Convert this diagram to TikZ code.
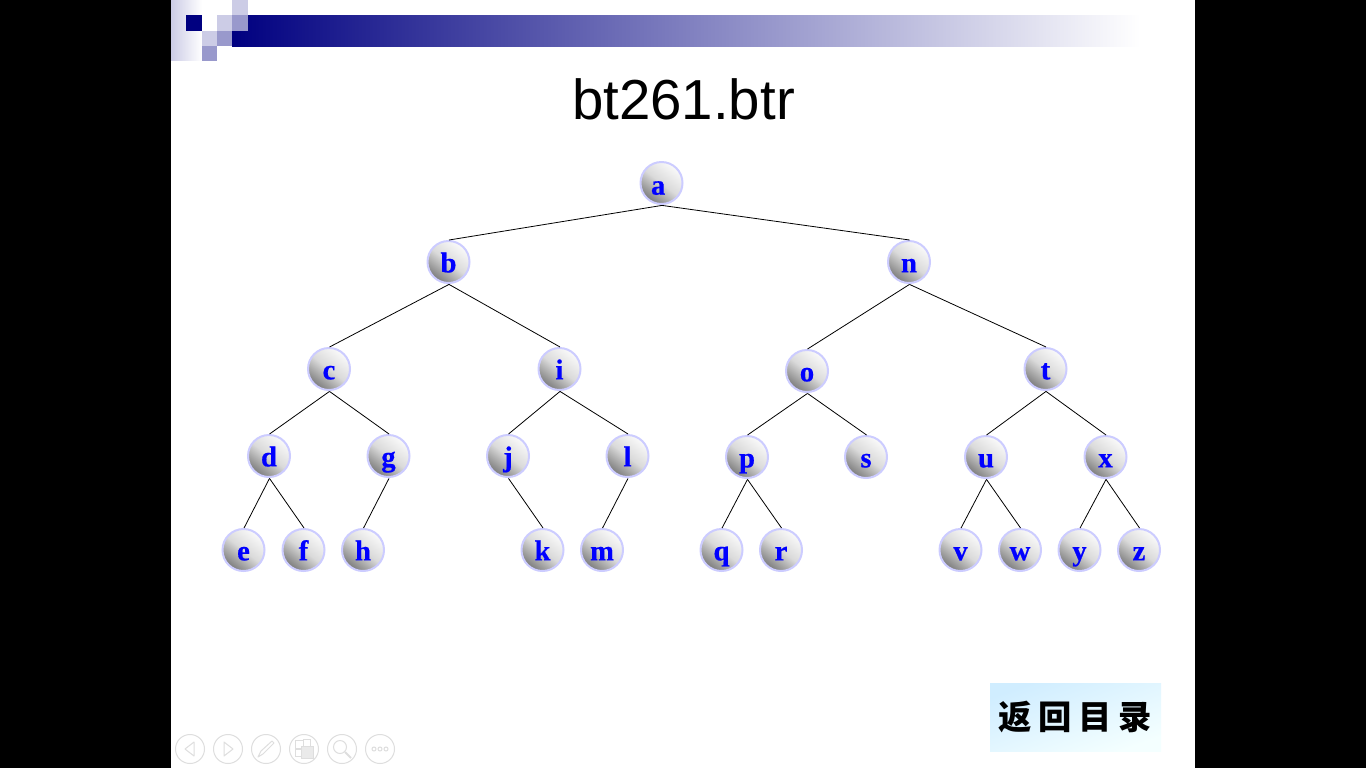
\documentclass[tikz,border=0pt]{standalone}
\usepackage{fontspec}
\setmainfont{Liberation Serif}
\newfontfamily\titlefont{Liberation Sans}
\newfontfamily\ballfont[FakeBold=0.6]{Liberation Serif Bold}
\newfontfamily\cjkfont{Noto Sans CJK SC}
\definecolor{navy}{HTML}{000080}
\definecolor{lightsq}{HTML}{CCCCE6}
\definecolor{midsq}{HTML}{9999CC}
\definecolor{ballrim}{HTML}{CCCCFF}
\definecolor{navline}{HTML}{DEDEDE}
\definecolor{navfill}{HTML}{EAEAEA}
\definecolor{balltop}{HTML}{FAFAFA}
\definecolor{ballmid}{HTML}{DADADA}
\definecolor{ballbot}{HTML}{7C7C7C}
\definecolor{btntop}{HTML}{D0EDFF}
\definecolor{btnbot}{HTML}{F4FFFF}
\tikzset{
  x=0.75pt,y=-0.75pt,
  ball/.style={circle,draw=ballrim,line width=1.5pt,minimum size=31.5pt,inner sep=0pt,
    top color=balltop,bottom color=ballbot,middle color=ballmid,shading angle=322,
    text=blue,font=\ballfont\fontsize{21.5}{21.5}\selectfont,text height=15.5pt,text depth=0pt},
  edge/.style={draw=black,line width=0.6pt},
  navring/.style={draw=navline,line width=0.75pt,fill=white},
  navmark/.style={draw=navline,line width=0.75pt},
}
\begin{document}
\begin{tikzpicture}
\useasboundingbox (0,0) rectangle (1366,768);
\fill[black] (0,0) rectangle (1366,768);
\fill[white] (171,0) rectangle (1195,768);
% header band
\shade[left color=navy,right color=white] (232,15) rectangle (1140,46);
\shade[left color=lightsq,right color=white] (171,0) rectangle (202,60);
\fill[white] (202,0) rectangle (232,15);
\fill[white] (202,15) rectangle (217,31);
\fill[navy] (186,15) rectangle (202,31);
\fill[lightsq] (217,15) rectangle (232,31);
\fill[lightsq] (232,0) rectangle (248,15);
\fill[midsq] (232,15) rectangle (248,31);
\fill[lightsq] (202,31) rectangle (217,46);
\fill[midsq] (217,31) rectangle (232,46);
\fill[midsq] (202,46) rectangle (217,61);
% title
\node[font=\titlefont\fontsize{42.3}{42.3}\selectfont,text=black] (title) at (683.5,99) {bt261.btr};
% tree nodes
\node[ball] (a) at (661.5,183) {\kern-5pt\raisebox{-1pt}{a}};
\node[ball] (b) at (448.5,262) {b};
\node[ball] (n) at (909,262) {n};
\node[ball] (c) at (329,369) {c};
\node[ball] (i) at (559.5,369) {i};
\node[ball] (o) at (807,371) {o};
\node[ball] (t) at (1045.5,369) {t};
\node[ball] (d) at (269,456) {d};
\node[ball] (g) at (388.5,456) {g};
\node[ball] (j) at (508,456) {j};
\node[ball] (l) at (627.5,456) {l};
\node[ball] (p) at (747,457) {p};
\node[ball] (s) at (866,457) {s};
\node[ball] (u) at (986,457) {u};
\node[ball] (xx) at (1105.5,457) {x};
\node[ball] (e) at (243.5,550) {e};
\node[ball] (f) at (303.5,550) {f};
\node[ball] (h) at (363,550) {h};
\node[ball] (k) at (542.5,550) {k};
\node[ball] (m) at (602,550) {m};
\node[ball] (q) at (721.5,550) {q};
\node[ball] (r) at (781,550) {r};
\node[ball] (v) at (960.5,550) {v};
\node[ball] (w) at (1020,550) {w};
\node[ball] (yy) at (1079.5,550) {y};
\node[ball] (z) at (1139,550) {z};
% edges
\foreach \pa/\ch in {a/b,a/n,b/c,b/i,n/o,n/t,c/d,c/g,i/j,i/l,o/p,o/s,t/u,t/xx,d/e,d/f,g/h,j/k,l/m,p/q,p/r,u/v,u/w,xx/yy,xx/z}
  \draw[edge] ([shift={(0.5,0.4)}]\pa.south) -- ([xshift=0.4pt]\ch.north);
% return button
\node[minimum width=128.25pt,minimum height=51pt,inner sep=0pt,
  top color=btntop,bottom color=btnbot,shading angle=20,
  font=\cjkfont\bfseries\fontsize{25}{25}\selectfont,text=black] (ret) at (1075.5,717)
  {\raisebox{-2.5pt}{返\kern5pt 回\kern5pt 目\kern5pt 录}};
% slide-show controls
\coordinate (nav1) at (190,749);
\coordinate (nav2) at (228,749);
\coordinate (nav3) at (266,749);
\coordinate (nav4) at (304,749);
\coordinate (nav5) at (342,749);
\coordinate (nav6) at (380,749);
\foreach \k in {1,...,6} \draw[navring] (nav\k) circle[radius=14.5];
\draw[navmark,line join=round] ([shift={(4,-7)}]nav1) -- ([shift={(-5,0)}]nav1) -- ([shift={(4,7)}]nav1) -- cycle;
\draw[navmark,line join=round] ([shift={(-4,-7)}]nav2) -- ([shift={(5,0)}]nav2) -- ([shift={(-4,7)}]nav2) -- cycle;
\draw[navmark,line join=round] ([shift={(-8,8)}]nav3) -- ([shift={(-5,2)}]nav3) -- ([shift={(6,-8)}]nav3) -- ([shift={(8,-6)}]nav3) -- ([shift={(-3,5)}]nav3) -- cycle;
\draw[navmark,fill=white] ([shift={(-9,-9)}]nav4) rectangle ([shift={(-1,-1)}]nav4);
\draw[navmark,fill=white] ([shift={(-1,-10)}]nav4) rectangle ([shift={(6,-3)}]nav4);
\draw[navmark,fill=white] ([shift={(-9,0)}]nav4) rectangle ([shift={(-3,7)}]nav4);
\draw[navmark,fill=navfill] ([shift={(-3,-3)}]nav4) rectangle ([shift={(9,9)}]nav4);
\draw[navmark] ([shift={(-2,-2)}]nav5) circle[radius=6.5];
\draw[navmark,line width=1.5pt] ([shift={(3,3)}]nav5) -- ([shift={(9,9)}]nav5);
\draw[navmark] ([shift={(-6,0)}]nav6) circle[radius=2];
\draw[navmark] (nav6) circle[radius=2];
\draw[navmark] ([shift={(6,0)}]nav6) circle[radius=2];
\end{tikzpicture}
\end{document}
